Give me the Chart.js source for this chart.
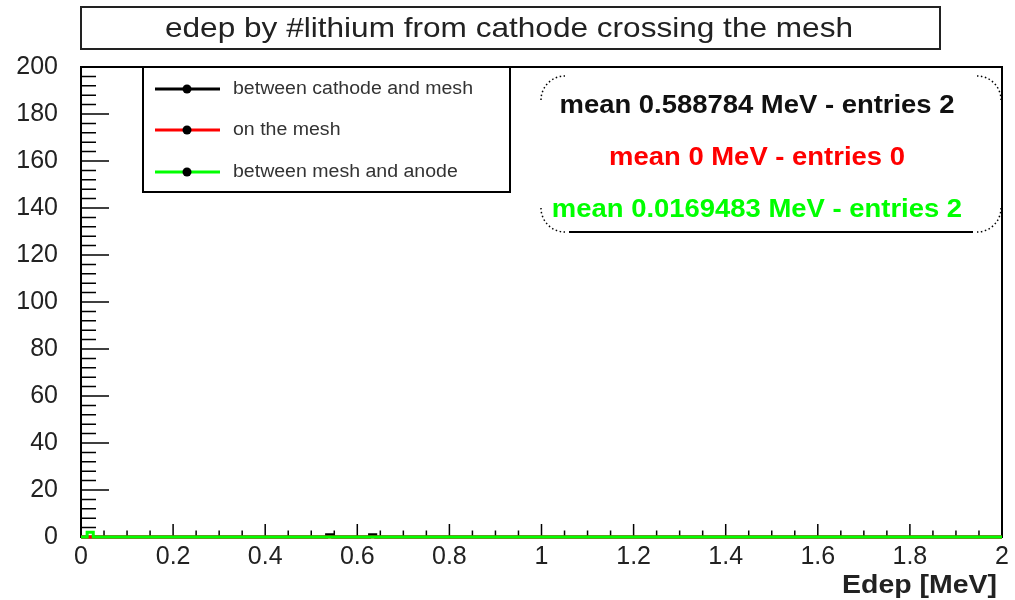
<!DOCTYPE html>
<html>
<head>
<meta charset="utf-8">
<script src="https://cdn.jsdelivr.net/npm/chart.js@4.4.0/dist/chart.umd.min.js"></script>
<style>
  html, body { margin: 0; padding: 0; background: #fff; }
  canvas { display: block; }
</style>
</head>
<body>
<canvas id="grafico" width="1015" height="600"></canvas>
<script>
// histograma: 150 bins entre 0 e 2 MeV
var xMin = 0;
var xMax = 2;
var nBins = 150;

// bins com conteudo (indice do bin) e contagens
var blackBins = [40, 47];
var blackCounts = [1, 1];
var redBins = [];
var redCounts = [];
var greenBins = [1];
var greenCounts = [2];

var seriesLabels = ['between cathode and mesh', 'on the mesh', 'between mesh and anode'];
var seriesColors = ['#000000', '#ff0000', '#00ff00'];
var statsLines = [
  'mean 0.588784 MeV - entries 2',
  'mean 0 MeV - entries 0',
  'mean 0.0169483 MeV - entries 2'
];

var titleText = 'edep by #lithium from cathode crossing the mesh';
var xTitle = 'Edep [MeV]';
var xTicks = [0, 0.2, 0.4, 0.6, 0.8, 1, 1.2, 1.4, 1.6, 1.8, 2];
var yTicks = [0, 20, 40, 60, 80, 100, 120, 140, 160, 180, 200];

var FONT = '"Liberation Sans", Arial, Helvetica, sans-serif';

// monta o contorno em degraus do histograma
function histPoints(bins, counts) {
  var w = (xMax - xMin) / nBins;
  var pts = [{ x: xMin, y: 0 }];
  for (var i = 0; i < bins.length; i++) {
    var lo = xMin + bins[i] * w;
    var hi = lo + w;
    pts.push({ x: lo, y: 0 }, { x: lo, y: counts[i] }, { x: hi, y: counts[i] }, { x: hi, y: 0 });
  }
  pts.push({ x: xMax, y: 0 });
  return pts;
}

// texto esticado na horizontal
function wideText(ctx, text, x, y, sx, align) {
  ctx.save();
  ctx.translate(x, y);
  ctx.scale(sx, 1);
  ctx.textAlign = align;
  ctx.fillText(text, 0, 0);
  ctx.restore();
}

// moldura e marcas de escala estilo ROOT
var framePlugin = {
  id: 'frame',
  beforeDatasetsDraw: function(chart) {
    var ctx = chart.ctx;
    var a = chart.chartArea;
    var xs = chart.scales.x;
    var ys = chart.scales.y;
    ctx.save();
    ctx.strokeStyle = '#000';
    ctx.lineWidth = 2;
    ctx.strokeRect(a.left, a.top, a.right - a.left, a.bottom - a.top);

    ctx.lineWidth = 1.5;
    ctx.beginPath();
    for (var i = 0; i < yTicks.length; i++) {
      var py = ys.getPixelForValue(yTicks[i]);
      ctx.moveTo(a.left, py);
      ctx.lineTo(a.left + 28, py);
      if (i < yTicks.length - 1) {
        var step = (yTicks[i + 1] - yTicks[i]) / 5;
        for (var k = 1; k < 5; k++) {
          var pm = ys.getPixelForValue(yTicks[i] + k * step);
          ctx.moveTo(a.left, pm);
          ctx.lineTo(a.left + 15, pm);
        }
      }
    }
    for (var j = 0; j < xTicks.length; j++) {
      var px = xs.getPixelForValue(xTicks[j]);
      ctx.moveTo(px, a.bottom);
      ctx.lineTo(px, a.bottom - 13);
      if (j < xTicks.length - 1) {
        var st = (xTicks[j + 1] - xTicks[j]) / 4;
        for (var m = 1; m < 4; m++) {
          var qx = xs.getPixelForValue(xTicks[j] + m * st);
          ctx.moveTo(qx, a.bottom);
          ctx.lineTo(qx, a.bottom - 6.5);
        }
      }
    }
    ctx.stroke();
    ctx.restore();
  },
  afterDraw: function(chart) {
    var ctx = chart.ctx;
    var a = chart.chartArea;
    ctx.save();

    // caixa do titulo
    ctx.strokeStyle = '#222';
    ctx.lineWidth = 2;
    ctx.strokeRect(81, 7, 859, 42);
    ctx.fillStyle = '#222';
    ctx.textBaseline = 'middle';
    ctx.font = '28px ' + FONT;
    var tw = ctx.measureText(titleText).width;
    wideText(ctx, titleText, 509, 29, 688 / tw, 'center');

    // titulo do eixo x
    ctx.font = 'bold 25px ' + FONT;
    ctx.textBaseline = 'alphabetic';
    var xw = ctx.measureText(xTitle).width;
    wideText(ctx, xTitle, 997, 593, 155 / xw, 'right');

    // legenda
    ctx.fillStyle = '#fff';
    ctx.fillRect(143, a.top, 367, 125);
    ctx.strokeStyle = '#000';
    ctx.lineWidth = 2;
    ctx.strokeRect(143, a.top, 367, 125);
    ctx.font = '18px ' + FONT;
    ctx.textBaseline = 'middle';
    var lw = ctx.measureText(seriesLabels[0]).width;
    var rows = [89, 130, 172];
    for (var i = 0; i < seriesLabels.length; i++) {
      ctx.strokeStyle = seriesColors[i];
      ctx.lineWidth = 3;
      ctx.beginPath();
      ctx.moveTo(155, rows[i]);
      ctx.lineTo(220, rows[i]);
      ctx.stroke();
      ctx.fillStyle = '#000';
      ctx.beginPath();
      ctx.arc(187, rows[i], 4.5, 0, Math.PI * 2);
      ctx.fill();
      ctx.fillStyle = '#333';
      wideText(ctx, seriesLabels[i], 233, rows[i], 240 / lw, 'left');
    }

    // caixa de estatisticas com cantos arredondados
    var bx0 = 541, bx1 = 1001, by0 = 76, by1 = 232, r = 24;
    ctx.strokeStyle = '#000';
    ctx.lineWidth = 1.5;
    ctx.setLineDash([1.5, 2.5]);
    ctx.beginPath();
    ctx.arc(bx0 + r, by0 + r, r, Math.PI, Math.PI * 1.5);
    ctx.stroke();
    ctx.beginPath();
    ctx.arc(bx1 - r, by0 + r, r, Math.PI * 1.5, Math.PI * 2);
    ctx.stroke();
    ctx.beginPath();
    ctx.arc(bx0 + r, by1 - r, r, Math.PI * 0.5, Math.PI);
    ctx.stroke();
    ctx.beginPath();
    ctx.arc(bx1 - r, by1 - r, r, 0, Math.PI * 0.5);
    ctx.stroke();
    ctx.setLineDash([]);
    ctx.lineWidth = 2;
    ctx.beginPath();
    ctx.moveTo(bx0 + r + 4, by1);
    ctx.lineTo(bx1 - r - 4, by1);
    ctx.stroke();

    ctx.font = 'bold 26px ' + FONT;
    var sw = ctx.measureText(statsLines[0]).width;
    var sy = [106, 158, 210];
    for (var s = 0; s < statsLines.length; s++) {
      ctx.fillStyle = seriesColors[s] === '#000000' ? '#111' : seriesColors[s];
      wideText(ctx, statsLines[s], 757, sy[s], 395 / sw, 'center');
    }
    ctx.restore();
  }
};

var ctx = document.getElementById('grafico').getContext('2d');
var chart = new Chart(ctx, {
  type: 'line',
  data: {
    datasets: [{
      label: seriesLabels[0],
      data: histPoints(blackBins, blackCounts),
      borderColor: seriesColors[0],
      order: 2
    }, {
      label: seriesLabels[1],
      data: histPoints(redBins, redCounts),
      borderColor: seriesColors[1],
      order: 1
    }, {
      label: seriesLabels[2],
      data: histPoints(greenBins, greenCounts),
      borderColor: seriesColors[2],
      order: 0
    }]
  },
  options: {
    responsive: false,
    devicePixelRatio: 1,
    animation: false,
    layout: { padding: { top: 67, right: 13, left: 0, bottom: 0 } },
    elements: {
      line: { borderWidth: 3, tension: 0, fill: false },
      point: { radius: 0, hoverRadius: 0 }
    },
    datasets: { line: { clip: false } },
    plugins: {
      legend: { display: false },
      tooltip: { enabled: false },
      title: { display: false }
    },
    scales: {
      x: {
        type: 'linear',
        min: xMin,
        max: xMax,
        afterBuildTicks: function(scale) {
          scale.ticks = xTicks.map(function(v) { return { value: v }; });
        },
        afterFit: function(scale) { scale.height = 63; },
        grid: { display: false },
        border: { display: false },
        ticks: {
          padding: -3,
          maxRotation: 0,
          autoSkip: false,
          color: '#222',
          font: { family: FONT, size: 25 },
          callback: function(v) { return String(v); }
        }
      },
      y: {
        min: 0,
        max: 200,
        afterBuildTicks: function(scale) {
          scale.ticks = yTicks.map(function(v) { return { value: v }; });
        },
        afterFit: function(scale) { scale.width = 81; },
        grid: { display: false },
        border: { display: false },
        ticks: {
          padding: 15,
          autoSkip: false,
          color: '#222',
          font: { family: FONT, size: 25 }
        }
      }
    }
  },
  plugins: [framePlugin]
});
</script>
</body>
</html>
